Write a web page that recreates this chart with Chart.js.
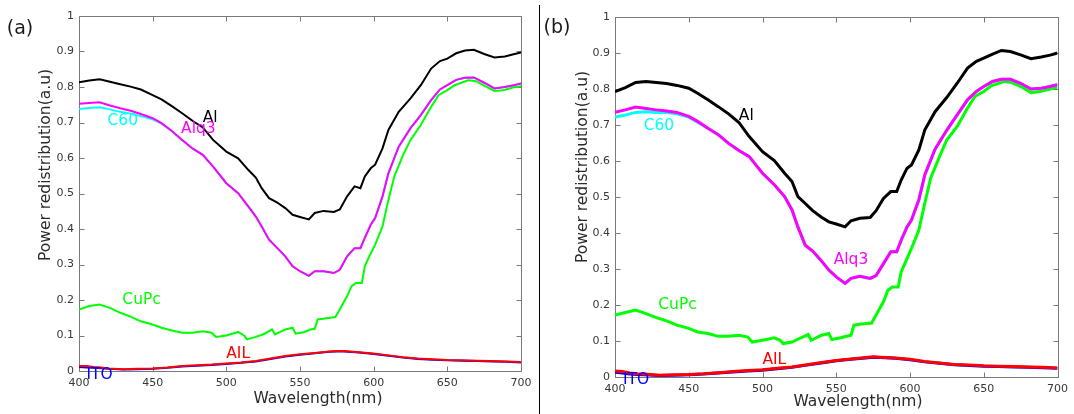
<!DOCTYPE html>
<html>
<head>
<meta charset="utf-8">
<script src="https://cdn.jsdelivr.net/npm/chart.js@4.4.1/dist/chart.umd.min.js"></script>
<style>
  html, body { margin: 0; padding: 0; background: #fff; width: 1074px; height: 414px; overflow: hidden; }
  canvas { position: absolute; top: 0; }
  #panelA { left: 0; }
  #panelB { left: 536px; }
  #divider { position: absolute; left: 539px; top: 5px; width: 1px; height: 409px; background: #000; }
</style>
</head>
<body>
<canvas id="panelA" width="538" height="414"></canvas>
<canvas id="panelB" width="538" height="414"></canvas>
<div id="divider"></div>
<script>
// Axis ticks (wavelength in nm, normalised power)
const xTicks = [400, 450, 500, 550, 600, 650, 700];
const yTicks = [0, 0.1, 0.2, 0.3, 0.4, 0.5, 0.6, 0.7, 0.8, 0.9, 1];

// Wavelength samples (nm)
const wlMain = [400,407,414,421,428,435,442,450,456,463,470,477,484,491,500,508,515,520,524,529,534,540,545,550,556,560,566,573,577,582,587,591,594,598,601,606,610,617,625,632,639,645,650,656,662,668,675,682,689,695,700];
const wlCuPc = [400,407,414,421,428,435,442,450,456,463,470,477,484,490,493,500,508,512,514,520,526,531,533,540,545,547,553,557,560,562,567,574,577,582,585,588,592,594,597,601,606,610,614,620,625,632,639,644,650,655,664,669,676,682,688,695,700];
const wlLow = [400,405,410,415,420,430,440,450,460,470,480,490,500,510,520,530,540,550,560,570,575,580,590,600,610,620,630,640,650,660,670,680,690,700];

// Panel (a)
const aAl = [.813,.818,.822,.815,.808,.801,.793,.777,.765,.746,.726,.705,.686,.651,.618,.599,.566,.545,.515,.487,.476,.459,.440,.434,.427,.445,.451,.448,.455,.492,.520,.515,.548,.571,.581,.627,.679,.730,.768,.805,.852,.873,.880,.895,.903,.905,.893,.883,.886,.892,.897];
const aAlq3 = [.753,.755,.757,.748,.740,.733,.724,.712,.698,.676,.651,.627,.609,.576,.529,.501,.463,.435,.407,.370,.349,.323,.295,.281,.268,.281,.281,.276,.285,.323,.346,.346,.375,.412,.431,.492,.557,.632,.684,.721,.763,.793,.805,.820,.826,.827,.812,.796,.800,.805,.810];
const aC60 = [.738,.741,.743,.737,.730,.725,.718,.709,.697,.676,.651,.627,.609,.576,.529,.501,.463,.435,.407,.370,.349,.323,.295,.281,.268,.281,.281,.276,.285,.323,.346,.346,.375,.412,.431,.492,.557,.632,.684,.721,.763,.793,.805,.820,.826,.827,.812,.796,.800,.805,.810];
const aCuPc = [.173,.183,.187,.178,.164,.153,.140,.131,.122,.114,.108,.108,.112,.108,.096,.100,.110,.100,.089,.096,.105,.117,.103,.117,.122,.105,.110,.117,.119,.145,.148,.152,.173,.211,.239,.248,.248,.295,.323,.356,.407,.482,.548,.609,.651,.693,.744,.777,.791,.805,.819,.817,.802,.789,.791,.799,.802];
const aAIL = [.014,.014,.011,.010,.007,.005,.006,.007,.010,.014,.016,.018,.021,.024,.028,.035,.042,.047,.051,.055,.056,.056,.053,.049,.044,.039,.035,.033,.031,.030,.029,.028,.027,.025];
const aITO = [.011,.010,.009,.008,.006,.004,.005,.006,.009,.013,.015,.017,.020,.023,.027,.034,.041,.046,.050,.054,.055,.055,.052,.048,.043,.038,.034,.032,.030,.029,.028,.027,.026,.024];

// Panel (b)
const bAl = [.793,.804,.818,.821,.818,.815,.810,.802,.788,.770,.751,.731,.707,.668,.626,.601,.566,.543,.501,.482,.462,.444,.431,.425,.417,.434,.441,.443,.462,.496,.515,.515,.547,.580,.589,.631,.686,.737,.777,.816,.858,.877,.886,.897,.907,.904,.895,.884,.889,.894,.900];
const bAlq3 = [.735,.742,.750,.746,.742,.739,.735,.724,.710,.691,.673,.649,.629,.612,.566,.534,.501,.464,.417,.366,.350,.322,.297,.278,.260,.274,.280,.274,.282,.315,.348,.348,.380,.417,.436,.492,.561,.633,.686,.728,.770,.793,.807,.821,.827,.827,.816,.800,.802,.807,.812];
const bC60 = [.722,.728,.735,.737,.735,.735,.731,.722,.708,.691,.673,.649,.629,.612,.566,.534,.501,.464,.417,.366,.350,.322,.297,.278,.260,.274,.280,.274,.282,.315,.348,.348,.380,.417,.436,.492,.561,.633,.686,.728,.770,.793,.807,.821,.827,.827,.816,.800,.802,.807,.812];
const bCuPc = [.172,.179,.186,.176,.165,.156,.144,.135,.125,.121,.113,.113,.116,.111,.097,.102,.109,.102,.093,.097,.109,.118,.102,.116,.121,.104,.109,.113,.116,.144,.147,.150,.172,.209,.241,.250,.250,.292,.320,.357,.408,.482,.552,.612,.659,.696,.747,.779,.793,.809,.821,.818,.805,.790,.793,.800,.805];
const bAIL = [.017,.015,.011,.009,.008,.005,.006,.007,.009,.012,.015,.018,.020,.024,.028,.034,.040,.046,.050,.054,.056,.055,.053,.049,.043,.039,.035,.033,.031,.030,.029,.028,.027,.025];
const bITO = [.013,.011,.008,.007,.006,.004,.005,.006,.008,.011,.014,.017,.019,.023,.027,.033,.039,.045,.049,.053,.055,.054,.052,.048,.042,.038,.034,.032,.030,.029,.028,.027,.026,.024];

const FONT = '"DejaVu Sans", Verdana, sans-serif';
const COLORS = { Al: '#000000', Alq3: '#ff00ff', C60: '#00ffff', CuPc: '#00ff00', AIL: '#ff0000', ITO: '#0000ff' };

function pts(xs, ys) { return xs.map((x, i) => ({ x: x, y: ys[i] })); }

function series(label, xs, ys, width) {
  return {
    label: label,
    data: pts(xs, ys),
    borderColor: COLORS[label],
    backgroundColor: COLORS[label],
    borderWidth: width,
    pointRadius: 0,
    tension: 0,
    fill: false
  };
}

// Box with inward tick marks on all four sides
const framePlugin = {
  id: 'frame',
  beforeDatasetsDraw(chart) {
    const { ctx, chartArea: a, scales: { x, y } } = chart;
    const L = 5;
    ctx.save();
    ctx.strokeStyle = '#7a7a7a';
    ctx.lineWidth = 1;
    ctx.beginPath();
    const l = Math.round(a.left) + 0.5, r = Math.round(a.right) + 0.5;
    const t = Math.round(a.top) + 0.5, b = Math.round(a.bottom) + 0.5;
    ctx.rect(l, t, r - l, b - t);
    xTicks.forEach(v => {
      const px = Math.round(x.getPixelForValue(v)) + 0.5;
      ctx.moveTo(px, b); ctx.lineTo(px, b - L);
      ctx.moveTo(px, t); ctx.lineTo(px, t + L);
    });
    yTicks.forEach(v => {
      const py = Math.round(y.getPixelForValue(v)) + 0.5;
      ctx.moveTo(l, py); ctx.lineTo(l + L, py);
      ctx.moveTo(r, py); ctx.lineTo(r - L, py);
    });
    ctx.stroke();
    ctx.restore();
  }
};

// Curve names placed at data coordinates, axis titles and panel letter
const textPlugin = {
  id: 'texts',
  afterDatasetsDraw(chart, args, opts) {
    const { ctx, scales: { x, y } } = chart;
    ctx.save();
    ctx.textAlign = 'center';
    ctx.textBaseline = 'middle';
    ctx.font = '15.5px ' + FONT;
    opts.names.forEach(n => {
      ctx.fillStyle = COLORS[n.text];
      ctx.fillText(n.text, x.getPixelForValue(n.x), y.getPixelForValue(n.y));
    });
    ctx.fillStyle = '#2b2b2b';
    ctx.fillText('Wavelength(nm)', opts.xTitle[0], opts.xTitle[1]);
    ctx.save();
    ctx.translate(opts.yTitle[0], opts.yTitle[1]);
    ctx.rotate(-Math.PI / 2);
    ctx.fillText('Power redistribution(a.u)', 0, 0);
    ctx.restore();
    ctx.font = '19px ' + FONT;
    ctx.fillStyle = '#1a1a1a';
    ctx.fillText(opts.letter[0], opts.letter[1], opts.letter[2]);
    ctx.restore();
  }
};

function makePanel(id, d, cfg) {
  const w = cfg.width;
  new Chart(document.getElementById(id), {
    type: 'line',
    data: {
      datasets: [
        series('Al', wlMain, d.Al, w),
        series('Alq3', wlMain, d.Alq3, w),
        series('C60', wlMain, d.C60, w),
        series('CuPc', wlCuPc, d.CuPc, w),
        series('AIL', wlLow, d.AIL, w),
        series('ITO', wlLow, d.ITO, w)
      ]
    },
    options: {
      responsive: false,
      animation: false,
      events: [],
      layout: { padding: { left: 0, right: cfg.padRight, top: cfg.padTop, bottom: 0 } },
      plugins: {
        legend: { display: false },
        tooltip: { enabled: false },
        texts: cfg.texts
      },
      scales: {
        x: {
          type: 'linear',
          min: 400, max: 700,
          afterBuildTicks: s => { s.ticks = xTicks.map(v => ({ value: v })); },
          afterFit: s => { s.height = cfg.xAxisHeight; },
          grid: { display: false, drawTicks: false },
          border: { display: false },
          ticks: {
            autoSkip: false, maxRotation: 0, padding: 6,
            color: '#383838', font: { family: FONT, size: 11 },
            callback: v => String(v)
          }
        },
        y: {
          type: 'linear',
          min: 0, max: 1,
          afterBuildTicks: s => { s.ticks = yTicks.map(v => ({ value: v })); },
          afterFit: s => { s.width = 79; },
          grid: { display: false, drawTicks: false },
          border: { display: false },
          ticks: {
            autoSkip: false, padding: 5,
            color: '#383838', font: { family: FONT, size: 11 },
            callback: v => String(v)
          }
        }
      }
    },
    plugins: [framePlugin, textPlugin]
  });
}

makePanel('panelA',
  { Al: aAl, Alq3: aAlq3, C60: aC60, CuPc: aCuPc, AIL: aAIL, ITO: aITO },
  {
    width: 2, padRight: 17, padTop: 16, xAxisHeight: 43,
    texts: {
      names: [
        { text: 'Al', x: 489, y: 0.714 },
        { text: 'Alq3', x: 481, y: 0.681 },
        { text: 'C60', x: 429.7, y: 0.705 },
        { text: 'CuPc', x: 442.5, y: 0.199 },
        { text: 'AIL', x: 508, y: 0.047 },
        { text: 'ITO', x: 414, y: -0.012 }
      ],
      xTitle: [318, 399],
      yTitle: [46, 165],
      letter: ['(a)', 20, 29]
    }
  });

makePanel('panelB',
  { Al: bAl, Alq3: bAlq3, C60: bC60, CuPc: bCuPc, AIL: bAIL, ITO: bITO },
  {
    width: 3, padRight: 13, padTop: 17, xAxisHeight: 37,
    texts: {
      names: [
        { text: 'Al', x: 489, y: 0.726 },
        { text: 'C60', x: 429.8, y: 0.698 },
        { text: 'Alq3', x: 560, y: 0.325 },
        { text: 'CuPc', x: 442.4, y: 0.199 },
        { text: 'AIL', x: 508, y: 0.046 },
        { text: 'ITO', x: 414.3, y: -0.009 }
      ],
      xTitle: [322, 402],
      yTitle: [46.5, 167],
      letter: ['(b)', 21, 28]
    }
  });
</script>
</body>
</html>
